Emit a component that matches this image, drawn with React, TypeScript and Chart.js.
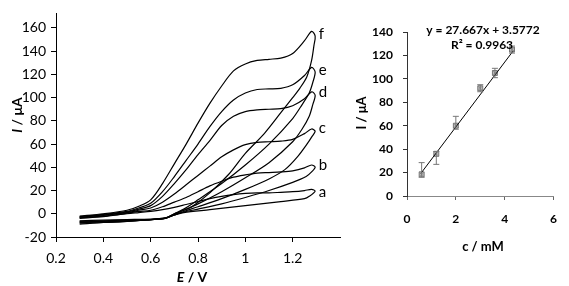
import React, { useEffect, useRef } from "react";
import { Chart, registerables } from "chart.js";
Chart.register(...registerables);

// ---------- Left panel: cyclic voltammograms ----------
const curveNames = ["a", "b", "c", "d", "e", "f"];
const fwdE = [0.3, 0.4, 0.5, 0.55, 0.6, 0.65, 0.7, 0.75, 0.8, 0.85, 0.9, 0.95, 1.0, 1.05, 1.1, 1.15, 1.2, 1.25, 1.28];
const aFwdI = [-4, -2.5, 0, 1, 2, 3.5, 5.5, 8, 10.5, 13, 15, 16.5, 17.5, 18, 18, 18.5, 19, 20, 21];
const bFwdI = [-3.5, -2, 0.5, 2, 3, 6, 10, 14, 19, 24, 28, 31.5, 33.5, 35, 35.5, 36, 37, 39.5, 42];
const cFwdI = [-3, -1.5, 1, 3, 5, 10, 17, 25, 33, 41, 49, 55, 59.5, 61.5, 62, 62.5, 64, 69, 73];
const dFwdI = [-3, -1, 1.5, 4, 7, 15, 26, 38, 51, 63, 76, 84, 88, 89.5, 90, 90.5, 93, 99, 105];
const eFwdI = [-2.5, -0.5, 2, 5, 9, 19, 32, 46, 60, 75, 88, 98, 104, 107, 107.5, 108, 111, 119, 126];
const fFwdI = [-2, 0, 3, 6.5, 12, 26, 43, 60, 78, 95, 110, 123, 129, 132, 133, 134, 138, 149, 157];

const aRevE = [1.295, 1.27, 1.25, 1.15, 1.0, 0.85, 0.74, 0.7, 0.66, 0.6, 0.5, 0.4, 0.3];
const aRevI = [19.5, 15, 13, 10.5, 7, 3.5, 1, -1, -3.5, -4.5, -5, -5.5, -6];
const bRevE = [1.295, 1.28, 1.257, 1.2, 1.1, 1.0, 0.9, 0.8, 0.74, 0.7, 0.66, 0.6, 0.5, 0.4, 0.3];
const bRevI = [40, 36, 32, 27, 20, 14, 8.5, 4, 1.5, -1, -4, -5, -5.5, -6, -6.5];
const cRevE = [1.295, 1.28, 1.264, 1.22, 1.167, 1.1, 1.0, 0.9, 0.8, 0.74, 0.7, 0.66, 0.6, 0.5, 0.4, 0.3];
const cRevI = [71, 66, 61, 49, 38, 30, 21, 13, 6, 2, -1, -4, -5, -6, -6.5, -7];
const dRevE = [1.295, 1.285, 1.27, 1.24, 1.2, 1.1, 1.0, 0.9, 0.8, 0.74, 0.7, 0.66, 0.6, 0.5, 0.4, 0.3];
const dRevI = [102, 94, 84, 73, 62, 44, 31, 19, 8.5, 3, -0.5, -4, -5, -6, -7, -7.5];
const eRevE = [1.295, 1.285, 1.27, 1.24, 1.2, 1.1, 1.0, 0.9, 0.8, 0.74, 0.7, 0.66, 0.6, 0.5, 0.4, 0.3];
const eRevI = [122, 113, 104, 94, 82, 60, 42, 26, 12, 4, 0, -4, -5, -6.5, -7.5, -8];
const fRevE = [1.295, 1.29, 1.28, 1.26, 1.23, 1.2, 1.15, 1.08, 1.0, 0.93, 0.85, 0.78, 0.74, 0.7, 0.66, 0.6, 0.5, 0.4, 0.3];
const fRevI = [153, 145, 132, 118, 108, 100, 87, 69, 52, 34, 18, 7, 3, 0, -4, -5, -6.5, -7.5, -9];

const curveLabelE = [1.31, 1.31, 1.31, 1.31, 1.31, 1.31];
const curveLabelI = [19, 42, 74, 105, 124, 155];

// ---------- Right panel: calibration ----------
const concX = [0.6, 1.2, 2.0, 3.0, 3.6, 4.3];
const peakI = [18.5, 36, 60, 92, 105, 125];
const errHi = [28.5, 38, 68, 95, 109, 128];
const errLo = [16, 27, 57, 89, 101, 122];
const trendX = [0.57, 4.35];
const trendY = [19.35, 123.93];
const eqText = "y = 27.667x + 3.5772";
const r2Text = "R\u00B2 = 0.9963";

const FONT = "Lato, 'Open Sans', sans-serif";

type Part = [string, string];
function drawMixed(ctx: CanvasRenderingContext2D, parts: Part[], cx: number, cy: number, angle: number) {
  ctx.save();
  ctx.translate(cx, cy);
  ctx.rotate(angle);
  let total = 0;
  const widths = parts.map(([t, f]) => {
    ctx.font = f;
    const w = ctx.measureText(t).width;
    total += w;
    return w;
  });
  let x = -total / 2;
  ctx.textBaseline = "middle";
  ctx.textAlign = "left";
  ctx.fillStyle = "#000";
  parts.forEach(([t, f], i) => {
    ctx.font = f;
    ctx.fillText(t, x, 0);
    x += widths[i];
  });
  ctx.restore();
}

function zip(xs: number[], ys: number[]) {
  return xs.map((x, i) => ({ x, y: ys[i] }));
}

export default function App() {
  const leftRef = useRef<HTMLCanvasElement>(null);
  const rightRef = useRef<HTMLCanvasElement>(null);

  useEffect(() => {
    const fwd = [aFwdI, bFwdI, cFwdI, dFwdI, eFwdI, fFwdI];
    const revE = [aRevE, bRevE, cRevE, dRevE, eRevE, fRevE];
    const revI = [aRevI, bRevI, cRevI, dRevI, eRevI, fRevI];

    const leftPlugin = {
      id: "leftText",
      afterDraw(chart: any) {
        const ctx = chart.ctx as CanvasRenderingContext2D;
        const xs = chart.scales.x;
        const ys = chart.scales.y;
        ctx.save();
        ctx.font = `15px ${FONT}`;
        ctx.fillStyle = "#000";
        ctx.textAlign = "left";
        ctx.textBaseline = "middle";
        curveNames.forEach((n, i) => {
          ctx.fillText(n, xs.getPixelForValue(curveLabelE[i]), ys.getPixelForValue(curveLabelI[i]));
        });
        ctx.restore();
        drawMixed(ctx, [["I", `italic bold 14px ${FONT}`], [" / \u03BCA", `bold 14px ${FONT}`]], 17, 115, -Math.PI / 2);
        drawMixed(ctx, [["E", `italic bold 14px ${FONT}`], [" / V", `bold 14px ${FONT}`]], 192, 277, 0);
      },
    };

    const left = new Chart(leftRef.current!, {
      type: "scatter",
      data: {
        datasets: curveNames.map((n, i) => ({
          label: n,
          data: [...zip(fwdE, fwd[i]), ...zip(revE[i], revI[i])],
          showLine: true,
          borderColor: "#000",
          borderWidth: 1.2,
          pointRadius: 0,
          tension: 0.3,
          fill: false,
        })),
      },
      options: {
        animation: false,
        responsive: false,
        layout: { padding: { top: 3, right: 2, left: 0, bottom: 0 } },
        plugins: { legend: { display: false }, tooltip: { enabled: false } },
        scales: {
          x: {
            type: "linear",
            min: 0.2,
            max: 1.4,
            afterFit: (s: any) => { s.height = 49; },
            ticks: {
              stepSize: 0.2,
              includeBounds: false,
              padding: 8,
              color: "#000",
              font: { family: FONT, size: 14 },
              maxRotation: 0,
              callback: (v: any) => (v > 1.39 ? "" : String(Math.round(v * 10) / 10)),
            },
            grid: {
              drawOnChartArea: false,
              drawTicks: true,
              tickLength: 5,
              color: (c: any) => (c.tick && c.tick.value > 1.39 ? "rgba(0,0,0,0)" : "#000"),
            },
            border: { display: true, color: "#000", width: 1 },
          },
          y: {
            type: "linear",
            min: -20,
            max: 172.5,
            afterFit: (s: any) => { s.width = 56; },
            ticks: {
              stepSize: 20,
              includeBounds: false,
              padding: 5,
              color: "#000",
              font: { family: FONT, size: 14 },
            },
            grid: { drawOnChartArea: false, drawTicks: true, tickLength: 5, color: "#000" },
            border: { display: true, color: "#000", width: 1 },
          },
        },
      },
      plugins: [leftPlugin],
    } as any);

    const rightPlugin = {
      id: "rightText",
      afterDatasetsDraw(chart: any) {
        const ctx = chart.ctx as CanvasRenderingContext2D;
        const xs = chart.scales.x;
        const ys = chart.scales.y;
        ctx.save();
        ctx.strokeStyle = "#777";
        ctx.lineWidth = 1;
        concX.forEach((c, i) => {
          const px = xs.getPixelForValue(c);
          const top = ys.getPixelForValue(errHi[i]);
          const bot = ys.getPixelForValue(errLo[i]);
          ctx.beginPath();
          ctx.moveTo(px, top);
          ctx.lineTo(px, bot);
          ctx.moveTo(px - 3, top);
          ctx.lineTo(px + 3, top);
          ctx.moveTo(px - 3, bot);
          ctx.lineTo(px + 3, bot);
          ctx.stroke();
        });
        ctx.restore();
      },
      afterDraw(chart: any) {
        const ctx = chart.ctx as CanvasRenderingContext2D;
        drawMixed(ctx, [[eqText, `bold 12px ${FONT}`]], 483 - 348, 30, 0);
        drawMixed(ctx, [[r2Text, `bold 12px ${FONT}`]], 482 - 348, 45, 0);
        drawMixed(ctx, [["I / \u03BCA", `bold 13px ${FONT}`]], 362 - 348, 113, -Math.PI / 2);
        drawMixed(ctx, [["c / mM", `bold 13px ${FONT}`]], 483 - 348, 247, 0);
      },
    };

    const right = new Chart(rightRef.current!, {
      type: "scatter",
      data: {
        datasets: [
          {
            label: "trend",
            data: zip(trendX, trendY),
            showLine: true,
            borderColor: "#000",
            borderWidth: 1,
            pointRadius: 0,
          },
          {
            label: "points",
            data: zip(concX, peakI),
            pointStyle: "rect",
            pointRadius: 3.5,
            backgroundColor: "rgba(170,170,170,0.8)",
            borderColor: "#777",
            borderWidth: 1,
          },
          {
            label: "points2",
            data: zip(concX, peakI),
            pointStyle: "crossRot",
            pointRadius: 3,
            borderColor: "#555",
            borderWidth: 1,
          },
        ],
      },
      options: {
        animation: false,
        responsive: false,
        layout: { padding: { top: 32, right: 6, left: 0, bottom: 0 } },
        plugins: { legend: { display: false }, tooltip: { enabled: false } },
        scales: {
          x: {
            type: "linear",
            min: 0,
            max: 6,
            afterFit: (s: any) => { s.height = 90; },
            ticks: {
              stepSize: 2,
              padding: 12,
              color: "#000",
              font: { family: FONT, size: 12, weight: "bold" },
              maxRotation: 0,
            },
            grid: { drawOnChartArea: false, drawTicks: true, tickLength: 4, color: "#666" },
            border: { display: true, color: "#888", width: 1 },
          },
          y: {
            type: "linear",
            min: 0,
            max: 140,
            afterFit: (s: any) => { s.width = 59; },
            ticks: {
              stepSize: 20,
              padding: 10,
              color: "#000",
              font: { family: FONT, size: 12, weight: "bold" },
            },
            grid: { drawOnChartArea: false, drawTicks: true, tickLength: 4, color: "#333" },
            border: { display: true, color: "#333", width: 1 },
          },
        },
      },
      plugins: [rightPlugin],
    } as any);

    return () => {
      left.destroy();
      right.destroy();
    };
  }, []);

  return (
    <div style={{ position: "absolute", left: 0, top: 0, width: 569, height: 286, background: "#fff" }}>
      <canvas ref={leftRef} width={348} height={286} style={{ position: "absolute", left: 0, top: 0, width: 348, height: 286 }} />
      <canvas ref={rightRef} width={221} height={286} style={{ position: "absolute", left: 348, top: 0, width: 221, height: 286 }} />
    </div>
  );
}
